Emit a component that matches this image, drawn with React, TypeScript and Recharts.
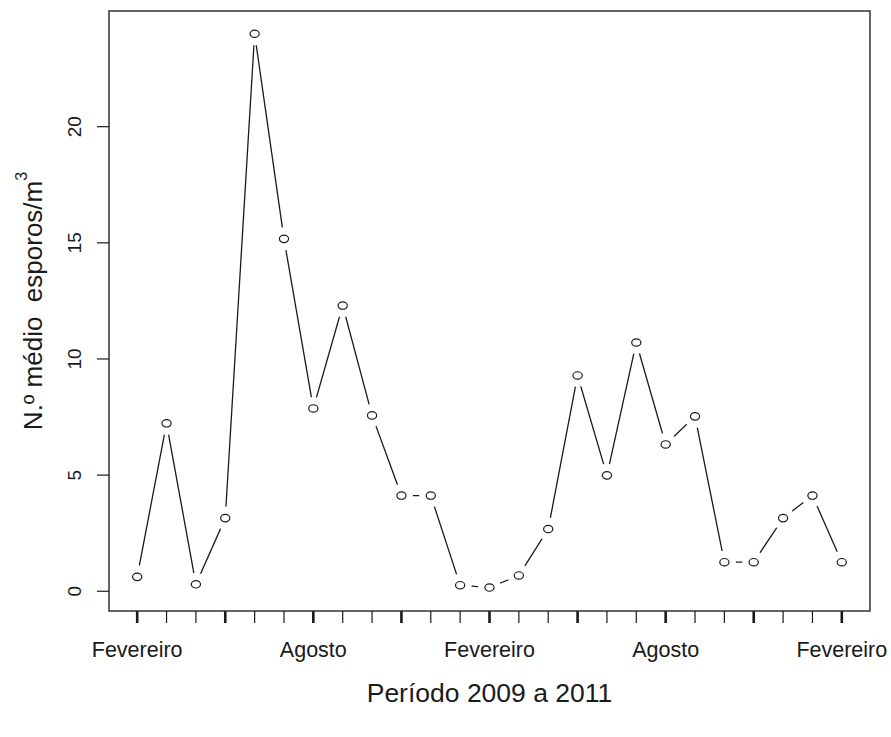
import { LineChart, Line, XAxis, YAxis, ReferenceArea } from 'recharts';

// média mensal de esporos, fev/2009 a fev/2011
const SPORES = [
  0.62, 7.23, 0.3, 3.15, 24.0, 15.17, 7.87, 12.3, 7.57, 4.12, 4.12, 0.26, 0.16,
  0.68, 2.68, 9.29, 4.99, 10.71, 6.32, 7.53, 1.25, 1.25, 3.15, 4.12, 1.25,
];
const MONTH_LABELS = ['Fevereiro', 'Agosto', 'Fevereiro', 'Agosto', 'Fevereiro'];
const Y_TICKS = [0, 5, 10, 15, 20];

const X_DOMAIN = [-0.96, 24.96];
const Y_DOMAIN = [-0.85, 24.98];

const FONT = '"Liberation Sans", Arial, sans-serif';
const INK = '#1a1a1a';

const data = SPORES.map((v, i) => ({ i, v }));
const xTicks = SPORES.map((_, i) => i);

function XTick({ x, y, payload }: any) {
  const i = payload.value;
  const major = i % 3 === 0;
  const label = i % 6 === 0 ? MONTH_LABELS[i / 6] : null;
  return (
    <g>
      <line x1={x} x2={x} y1={y} y2={y + 12} stroke={INK} strokeWidth={major ? 2.6 : 1.2} />
      {label && (
        <text x={x} y={y + 39} textAnchor="middle" dominantBaseline="central"
          fontFamily={FONT} fontSize={21.5} fill={INK}>
          {label}
        </text>
      )}
    </g>
  );
}

function YTick({ x, y, payload }: any) {
  const lx = x - 34.5;
  return (
    <g>
      <line x1={x - 12} x2={x} y1={y} y2={y} stroke={INK} strokeWidth={1.2} />
      <text x={lx} y={y} transform={`rotate(-90 ${lx} ${y})`} textAnchor="middle"
        dominantBaseline="central" fontFamily={FONT} fontSize={19} fill={INK}>
        {payload.value}
      </text>
    </g>
  );
}

// ponto estilo type="b" do R: halo branco interrompe a linha
function GapDot({ cx, cy, index }: any) {
  if (cx == null || cy == null) return null;
  return (
    <g key={index}>
      <circle cx={cx} cy={cy} r={11.5} fill="#fff" />
      <ellipse cx={cx} cy={cy} rx={4.6} ry={3.7} fill="none" stroke={INK} strokeWidth={1.2} />
    </g>
  );
}

function YTitle({ viewBox }: any) {
  const cx = viewBox.x + 33;
  const cy = viewBox.y + viewBox.height / 2 - 10;
  return (
    <text x={cx} y={cy} transform={`rotate(-90 ${cx} ${cy})`} textAnchor="middle"
      dominantBaseline="central" fontFamily={FONT} fontSize={26} fill={INK}
      style={{ whiteSpace: 'pre' }}>
      {'N.º médio  esporos/m'}
      <tspan fontSize={16} dy={-12}>3</tspan>
    </text>
  );
}

function XTitle({ viewBox }: any) {
  const cx = viewBox.x + viewBox.width / 2;
  const cy = viewBox.y + 82;
  return (
    <text x={cx} y={cy} textAnchor="middle" dominantBaseline="central"
      fontFamily={FONT} fontSize={26.5} fill={INK}>
      Período 2009 a 2011
    </text>
  );
}

export default function App() {
  return (
    <div style={{ position: 'absolute', left: 0, top: 0, background: '#fff' }}>
      <LineChart width={891} height={737} data={data}
        margin={{ top: 11, right: 21, bottom: 0, left: 0 }}>
        <XAxis dataKey="i" type="number" domain={X_DOMAIN} ticks={xTicks}
          allowDataOverflow interval={0} height={126} axisLine={false}
          tickLine={false} tickSize={0} tickMargin={0} tick={<XTick />}
          label={<XTitle />} />
        <YAxis type="number" domain={Y_DOMAIN} ticks={Y_TICKS} allowDataOverflow
          width={109} axisLine={false} tickLine={false} tickSize={0} tickMargin={0}
          tick={<YTick />} label={<YTitle />} />
        <ReferenceArea x1={X_DOMAIN[0]} x2={X_DOMAIN[1]} y1={Y_DOMAIN[0]} y2={Y_DOMAIN[1]}
          fill="none" fillOpacity={0} stroke="#333" strokeWidth={1.5} ifOverflow="visible" />
        <Line dataKey="v" stroke={INK} strokeWidth={1.3} dot={<GapDot />}
          activeDot={false} isAnimationActive={false} />
      </LineChart>
    </div>
  );
}
